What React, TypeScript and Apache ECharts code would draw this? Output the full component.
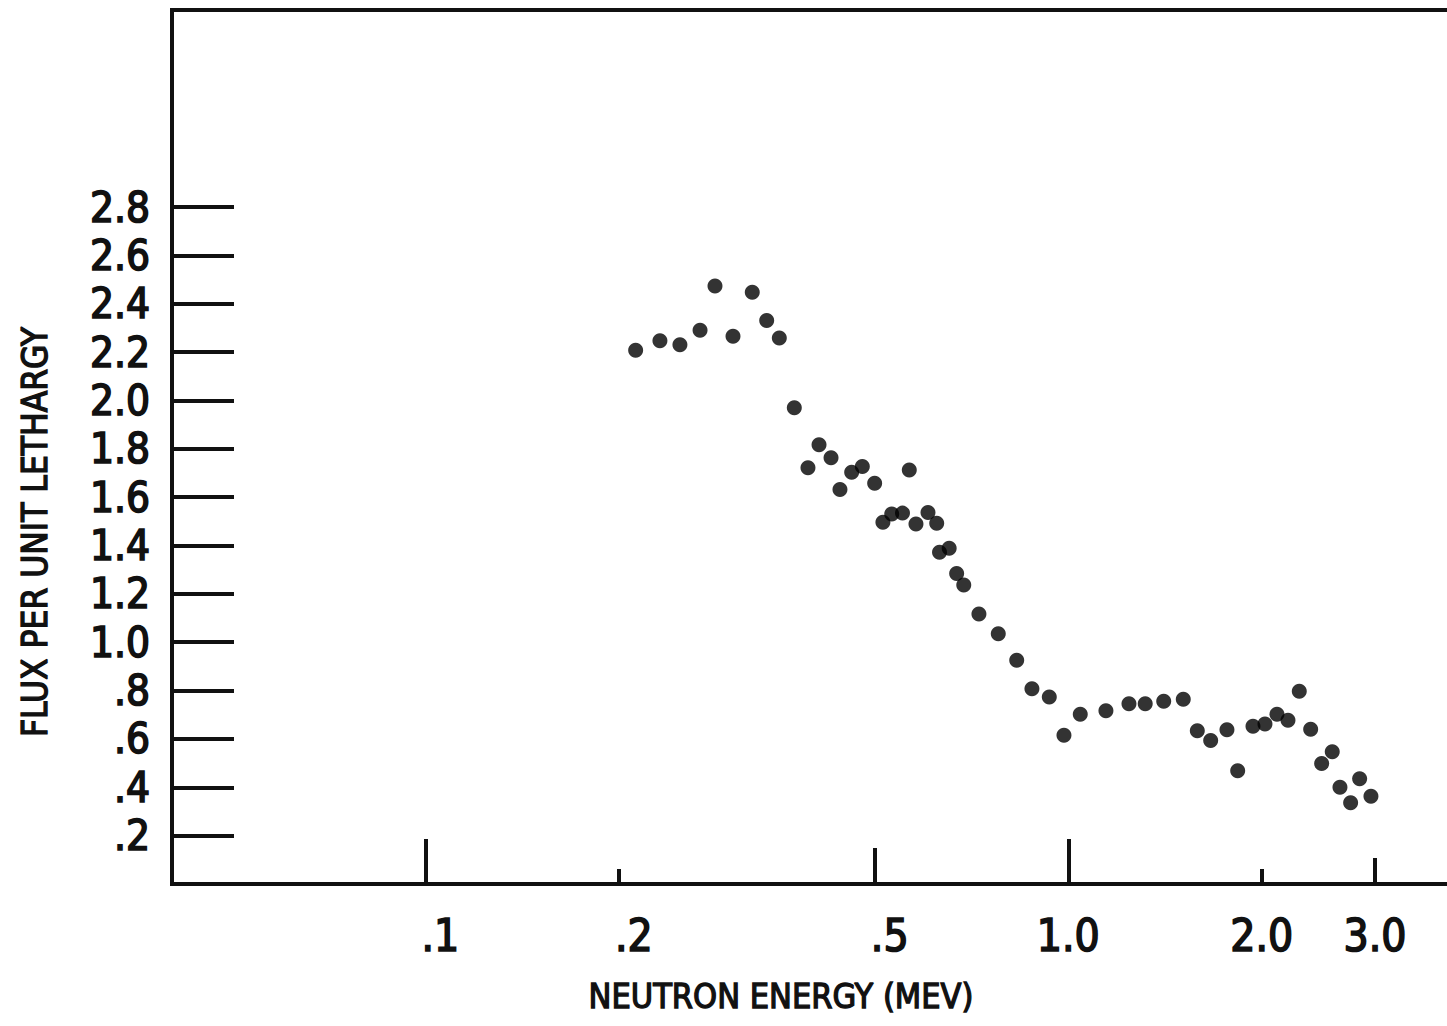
import React, { useEffect, useRef } from "react";
import * as echarts from "echarts";

// Neutron energy (MeV) of each measured point
const energy = [
  0.2124, 0.2317, 0.2489, 0.2675, 0.2822, 0.301, 0.3225, 0.3396, 0.3553, 0.3749,
  0.3937, 0.4096, 0.4276, 0.4415, 0.4604, 0.4783, 0.4999, 0.5149, 0.5314, 0.5523,
  0.5659, 0.5796, 0.6051, 0.6243, 0.6306, 0.6528, 0.6705, 0.6878, 0.7262, 0.7783,
  0.8314, 0.878, 0.9343, 0.9847, 1.0439, 1.1444, 1.2428, 1.3173, 1.4075, 1.5096,
  1.5874, 1.6653, 1.7652, 1.8344, 1.9377, 2.0227, 2.1115, 2.1964, 2.2871, 2.3823,
  2.4779, 2.5737, 2.6458, 2.7488, 2.8389, 2.9563,
];

// Flux per unit lethargy of each point
const flux = [
  2.208, 2.247, 2.23, 2.29, 2.473, 2.266, 2.448, 2.331, 2.258, 1.97,
  1.722, 1.817, 1.763, 1.632, 1.703, 1.727, 1.658, 1.496, 1.53, 1.534,
  1.712, 1.489, 1.537, 1.492, 1.372, 1.389, 1.284, 1.237, 1.117, 1.035,
  0.925, 0.808, 0.773, 0.615, 0.702, 0.717, 0.746, 0.746, 0.756, 0.764,
  0.634, 0.594, 0.638, 0.468, 0.652, 0.662, 0.702, 0.677, 0.797, 0.64,
  0.498, 0.547, 0.4, 0.336, 0.435, 0.363,
];

const xTickValues = [0.1, 0.2, 0.5, 1, 2, 3];
const xTickLabels = [".1", ".2", ".5", "1.0", "2.0", "3.0"];
const xTicksLong = [0.1, 1];
const xTicksMid = [0.5];
const xTicksThree = [3];
const xTicksShort = [0.2, 2];

const yTickValues = [0.2, 0.4, 0.6, 0.8, 1.0, 1.2, 1.4, 1.6, 1.8, 2.0, 2.2, 2.4, 2.6, 2.8];
const yTickLabels = [".2", ".4", ".6", ".8", "1.0", "1.2", "1.4", "1.6", "1.8", "2.0", "2.2", "2.4", "2.6", "2.8"];

const xAxisName = "NEUTRON ENERGY (MEV)";
const yAxisName = "FLUX PER UNIT LETHARGY";

const X_MIN = 0.04037;
const X_MAX = 4.17;
const Y_MIN = 0;
const Y_MAX = 3.615;

const INK = "#111";
const FONT = "'DejaVu Sans Condensed', Roboto, sans-serif";

function nearestLabel(v: number, values: number[], labels: string[]) {
  let best = 0;
  let bestD = Infinity;
  values.forEach((t, i) => {
    const d = Math.abs(Math.log(t) - Math.log(v));
    if (d < bestD) {
      bestD = d;
      best = i;
    }
  });
  return labels[best];
}

export default function App() {
  const ref = useRef<HTMLDivElement>(null);

  useEffect(() => {
    if (!ref.current) return;
    const chart = echarts.init(ref.current, null, { renderer: "svg" });

    const baseX = {
      type: "log" as const,
      logBase: 10,
      min: X_MIN,
      max: X_MAX,
      gridIndex: 0,
      position: "bottom" as const,
      axisLine: { show: false },
      splitLine: { show: false },
      minorTick: { show: false },
    };

    const tickAxis = (vals: number[], len: number) => ({
      ...baseX,
      axisTick: {
        show: true,
        inside: true,
        length: len,
        customValues: vals,
        lineStyle: { color: INK, width: 4 },
      },
      axisLabel: { show: false },
    });

    const labelInk = { color: INK, textBorderColor: INK, textBorderWidth: 1.6 };

    const option: any = {
      animation: false,
      backgroundColor: "#fff",
      grid: {
        left: 172,
        top: 10,
        right: -20,
        bottom: 142,
        show: true,
        borderColor: INK,
        borderWidth: 4,
        backgroundColor: "transparent",
        containLabel: false,
        outerBoundsMode: "none",
      },
      xAxis: [
        {
          ...baseX,
          axisTick: {
            show: true,
            inside: true,
            length: 45,
            customValues: xTicksLong,
            lineStyle: { color: INK, width: 4 },
          },
          axisLabel: {
            show: true,
            customValues: xTickValues,
            margin: 29,
            ...labelInk,
            fontFamily: FONT,
            fontSize: 44,
            fontWeight: "normal",
            formatter: (v: number) => {
              const s = nearestLabel(v, xTickValues, xTickLabels);
              return s.startsWith(".") ? "{dot|" + s + "}" : s;
            },
            rich: {
              dot: {
                padding: [0, 0, 0, 30],
                ...labelInk,
                fontFamily: FONT,
                fontSize: 44,
                fontWeight: "normal",
              },
            },
          },
        },
        tickAxis(xTicksMid, 36),
        tickAxis(xTicksThree, 26),
        tickAxis(xTicksShort, 15),
      ],
      yAxis: {
        type: "value",
        min: Y_MIN,
        max: Y_MAX,
        axisLine: { show: false },
        splitLine: { show: false },
        axisTick: {
          show: true,
          inside: true,
          length: 62,
          customValues: yTickValues,
          lineStyle: { color: INK, width: 4 },
        },
        axisLabel: {
          show: true,
          customValues: yTickValues,
          margin: 22,
          ...labelInk,
          fontFamily: FONT,
          fontSize: 42,
          fontWeight: "normal",
          formatter: (v: number) => {
            let best = 0;
            yTickValues.forEach((t, i) => {
              if (Math.abs(t - v) < Math.abs(yTickValues[best] - v)) best = i;
            });
            return yTickLabels[best];
          },
        },
      },
      graphic: [
        {
          type: "text",
          x: 781,
          y: 996,
          style: {
            text: xAxisName,
            fill: INK,
            stroke: INK,
            lineWidth: 1.3,
            font: "normal 34px " + FONT,
            textAlign: "center",
            textVerticalAlign: "middle",
          },
        },
        {
          type: "text",
          x: 35,
          y: 532,
          rotation: Math.PI / 2,
          style: {
            text: yAxisName,
            fill: INK,
            stroke: INK,
            lineWidth: 1.3,
            font: "normal 35px " + FONT,
            textAlign: "center",
            textVerticalAlign: "middle",
          },
        },
      ],
      series: [
        {
          type: "scatter",
          xAxisIndex: 0,
          yAxisIndex: 0,
          symbol: "circle",
          symbolSize: 15,
          itemStyle: { color: "#000" },
          data: energy.map((e, i) => [e, flux[i]]),
        },
      ],
    };

    chart.setOption(option);
    return () => chart.dispose();
  }, []);

  return (
    <div
      ref={ref}
      style={{ position: "fixed", left: 0, top: 0, width: 1447, height: 1026, background: "#fff" }}
    />
  );
}
